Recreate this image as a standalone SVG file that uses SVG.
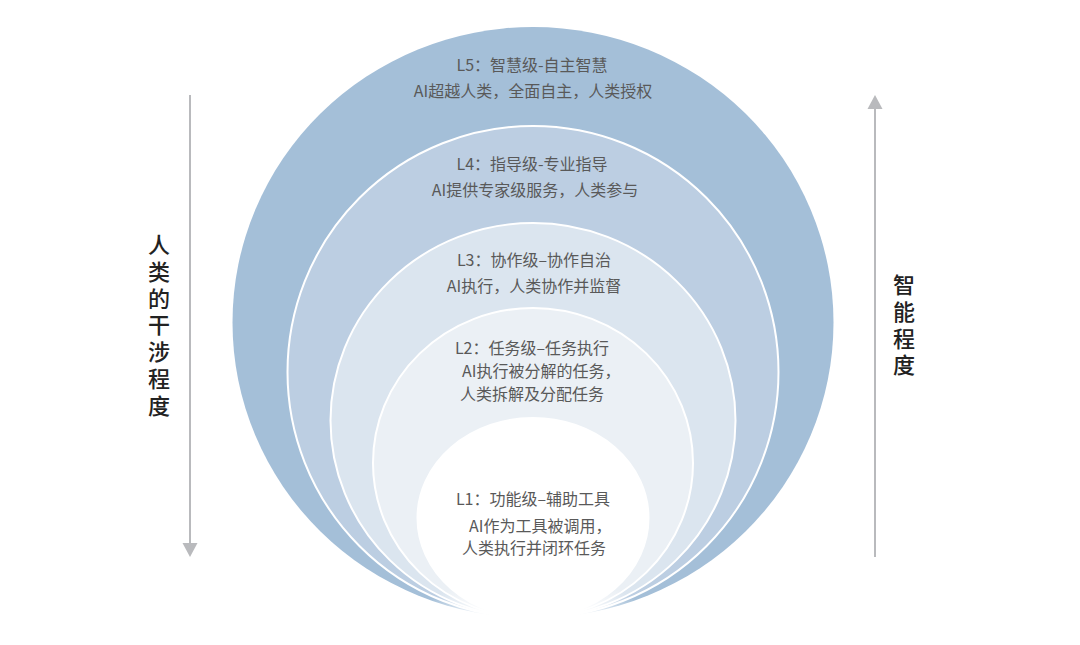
<svg xmlns="http://www.w3.org/2000/svg" width="1080" height="645" viewBox="0 0 1080 645">
  <defs>
    <style>
      .lvl { stroke: #ffffff; stroke-width: 2; }
      .t { font-family: "Noto Sans CJK SC", "Noto Sans", sans-serif; font-size: 16px; fill: #595959; }
      .c { text-anchor: middle; }
      .axis { font-family: "Noto Sans CJK SC", "Noto Sans", sans-serif; font-size: 22px; font-weight: 500; fill: #222222; writing-mode: vertical-rl; letter-spacing: 4.7px; }
      .arr { stroke: #b9babd; stroke-width: 2; fill: none; }
    </style>
    <radialGradient id="fade" cx="533" cy="624" r="1" gradientUnits="userSpaceOnUse" gradientTransform="translate(533 624) scale(120 48) translate(-533 -624)">
      <stop offset="0" stop-color="#ffffff" stop-opacity="1"/>
      <stop offset="0.45" stop-color="#ffffff" stop-opacity="0.95"/>
      <stop offset="1" stop-color="#ffffff" stop-opacity="0"/>
    </radialGradient>
  </defs>
  <rect width="1080" height="645" fill="#ffffff"/>

  <g id="L5">
    <ellipse cx="533" cy="322.5" rx="300.5" ry="295.5" fill="#a4bfd8"/>
  </g>
  <g id="L4">
    <ellipse class="lvl" cx="533" cy="372" rx="245.5" ry="246" fill="#bccee2"/>
  </g>
  <g id="L3">
    <ellipse class="lvl" cx="533" cy="420.5" rx="202.5" ry="197.5" fill="#dbe5ef"/>
  </g>
  <g id="L2">
    <ellipse class="lvl" cx="533" cy="463" rx="160" ry="155" fill="#ebf0f5"/>
  </g>
  <g id="L1">
    <ellipse class="lvl" cx="533" cy="518" rx="115.5" ry="100" fill="#ffffff"/>
  </g>
  <ellipse cx="533" cy="624" rx="120" ry="48" fill="url(#fade)"/>

  <g id="L5-text">
    <text class="t c" x="532" y="71">L5：智慧级-自主智慧</text>
    <text class="t c" x="533" y="97">AI超越人类，全面自主，人类授权</text>
  </g>
  <g id="L4-text">
    <text class="t c" x="532" y="170">L4：指导级-专业指导</text>
    <text class="t c" x="535" y="196">AI提供专家级服务，人类参与</text>
  </g>
  <g id="L3-text">
    <text class="t c" x="534" y="266">L3：协作级–协作自治</text>
    <text class="t c" x="534" y="292">AI执行，人类协作并监督</text>
  </g>
  <g id="L2-text">
    <text class="t c" x="532" y="354">L2：任务级–任务执行</text>
    <text class="t"><tspan x="462" y="377">AI执行被分解的任务，</tspan><tspan x="460" y="400">人类拆解及分配任务</tspan></text>
  </g>
  <g id="L1-text">
    <text class="t c" x="533" y="505">L1：功能级–辅助工具</text>
    <text class="t"><tspan x="469" y="532">AI作为工具被调用，</tspan><tspan x="462" y="554">人类执行并闭环任务</tspan></text>
  </g>

  <g id="connectors">
    <line class="arr" x1="190" y1="95" x2="190" y2="545"/>
    <polygon points="182.5,543 197.5,543 190,557" fill="#b9babd"/>
    <line class="arr" x1="875" y1="107" x2="875" y2="557"/>
    <polygon points="867.5,109 882.5,109 875,95" fill="#b9babd"/>
  </g>

  <g id="human-label">
    <text class="axis" x="159" y="234">人类的干涉程度</text>
  </g>
  <g id="ai-label">
    <text class="axis" x="904" y="274">智能程度</text>
  </g>
</svg>
